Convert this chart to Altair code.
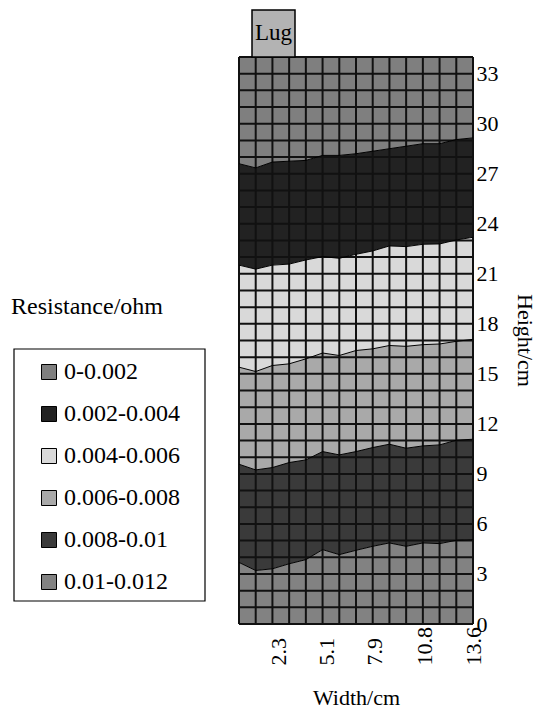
import altair as alt
import pandas as pd

# Measurement columns across the plate (cm)
width_cm = [0.0, 0.97, 1.94, 2.91, 3.89, 4.86, 5.83, 6.8, 7.77, 8.74, 9.71, 10.69, 11.66, 12.63, 13.6]

# Heights (cm) of the iso-resistance boundaries along the width
edge_a = [3.69, 3.21, 3.31, 3.61, 3.86, 4.46, 4.16, 4.42, 4.66, 4.86, 4.66, 4.86, 4.82, 5.02, 5.06]
edge_b = [9.58, 9.24, 9.38, 9.68, 9.84, 10.34, 10.14, 10.34, 10.58, 10.78, 10.54, 10.68, 10.74, 11.02, 11.08]
edge_c = [15.4, 15.14, 15.5, 15.6, 15.9, 16.25, 16.1, 16.4, 16.5, 16.7, 16.65, 16.75, 16.79, 16.95, 17.07]
edge_d = [21.52, 21.28, 21.52, 21.58, 21.83, 22.03, 21.93, 22.17, 22.37, 22.67, 22.63, 22.77, 22.79, 23.03, 23.19]
edge_e = [27.6, 27.35, 27.7, 27.75, 27.8, 28.1, 28.1, 28.2, 28.35, 28.5, 28.65, 28.8, 28.8, 29.05, 29.15]

plate_height = 34
plate_columns = 14

ranges = ["0-0.002", "0.002-0.004", "0.004-0.006", "0.006-0.008", "0.008-0.01", "0.01-0.012"]
shades = ["#7f7f7f", "#222222", "#d9d9d9", "#a9a9a9", "#3a3a3a", "#828282"]

height_ticks = [0, 3, 6, 9, 12, 15, 18, 21, 24, 27, 30, 33]
width_ticks = [2.3, 5.1, 7.9, 10.8, 13.6]

FONT = "Liberation Serif"

top = [plate_height] * len(width_cm)
bottom = [0] * len(width_cm)
band_limits = {
    "0-0.002": (edge_e, top),
    "0.002-0.004": (edge_d, edge_e),
    "0.004-0.006": (edge_c, edge_d),
    "0.006-0.008": (edge_b, edge_c),
    "0.008-0.01": (edge_a, edge_b),
    "0.01-0.012": (bottom, edge_a),
}
band_rows = []
for name, (lo, hi) in band_limits.items():
    for w, a, b in zip(width_cm, lo, hi):
        band_rows.append({"range": name, "w": w, "lo": a, "hi": b})
bands = pd.DataFrame(band_rows)

edge_rows = []
for k, edge in enumerate([edge_a, edge_b, edge_c, edge_d, edge_e]):
    for w, h in zip(width_cm, edge):
        edge_rows.append({"edge": k, "w": w, "h": h})
edges = pd.DataFrame(edge_rows)

col_step = width_cm[-1] / plate_columns
vgrid = pd.DataFrame({"w": [i * col_step for i in range(plate_columns + 1)]})
hgrid = pd.DataFrame({"h": list(range(plate_height + 1))})

xscale = alt.Scale(domain=[0, width_cm[-1]], nice=False, zero=False)
yscale = alt.Scale(domain=[0, plate_height], nice=False, zero=False)

x_axis = alt.Axis(
    values=width_ticks, format=".1f", labelAngle=270, labelAlign="left",
    labelBaseline="middle", labelPadding=41, ticks=False, domain=False, grid=False,
    labelFlush=False, labelOverlap=False, labelFont=FONT, labelFontSize=22,
    labelColor="black",
    title="Width/cm", titleFont=FONT, titleFontSize=22, titleFontWeight="normal",
    titleColor="black", titleY=63, titleBaseline="top",
)
y_axis = alt.Axis(
    orient="right", values=height_ticks, labelPadding=3, ticks=False, domain=False,
    grid=False, labelFlush=False, labelOverlap=False, labelFont=FONT, labelFontSize=22,
    labelColor="black", labelBaseline="middle",
    title="Height/cm", titleFont=FONT, titleFontSize=22, titleFontWeight="normal",
    titleColor="black", titleAngle=90, titleX=51, titleY=283, titleAlign="center",
    titleBaseline="middle",
)

legend = alt.Legend(
    orient="none", legendX=-202, legendY=303, padding=0, symbolType="square",
    symbolSize=225, symbolStrokeColor="black", symbolStrokeWidth=1, symbolOpacity=1,
    labelFont=FONT, labelFontSize=24, labelColor="black", labelOffset=3,
    rowPadding=18, title=None,
)

# Frame drawn behind the legend entries
frame = alt.Chart(pd.DataFrame({"k": [0]})).mark_rect(
    fill="white", stroke="black", strokeWidth=1.2
).encode(x=alt.value(-225), x2=alt.value(-34), y=alt.value(292), y2=alt.value(544))

area = alt.Chart(bands).mark_area(interpolate="linear").encode(
    x=alt.X("w:Q", scale=xscale, axis=x_axis),
    y=alt.Y("lo:Q", scale=yscale, axis=y_axis),
    y2="hi:Q",
    color=alt.Color("range:N", scale=alt.Scale(domain=ranges, range=shades), legend=legend),
)

vlines = alt.Chart(vgrid).mark_rule(color="#111111", strokeWidth=2).encode(
    x=alt.X("w:Q", scale=xscale, axis=x_axis)
)
hlines = alt.Chart(hgrid).mark_rule(color="#111111", strokeWidth=2).encode(
    y=alt.Y("h:Q", scale=yscale, axis=y_axis)
)

contours = alt.Chart(edges).mark_line(color="black", strokeWidth=1).encode(
    x=alt.X("w:Q", scale=xscale, axis=x_axis),
    y=alt.Y("h:Q", scale=yscale, axis=y_axis),
    detail="edge:N",
)

lug_df = pd.DataFrame({"label": ["Lug"]})
lug_box = alt.Chart(lug_df).mark_rect(fill="#b3b3b3", stroke="black", strokeWidth=1.5).encode(
    x=alt.value(13), x2=alt.value(56), y=alt.value(-47), y2=alt.value(0)
)
lug_text = alt.Chart(lug_df).mark_text(font=FONT, fontSize=23, color="black").encode(
    x=alt.value(34.5), y=alt.value(-24), text="label:N"
)

legend_title = alt.Chart(pd.DataFrame({"t": ["Resistance/ohm"]})).mark_text(
    font=FONT, fontSize=24, color="black", align="left", baseline="middle"
).encode(x=alt.value(-228), y=alt.value(250), text="t:N")

chart = alt.layer(frame, area, vlines, hlines, contours, lug_box, lug_text, legend_title).properties(
    width=234,
    height=567,
    autosize=alt.AutoSizeParams(type="none"),
    padding={"left": 239, "top": 57, "right": 64, "bottom": 91},
    background="white",
).configure_view(strokeWidth=0)

chart.save("out.html", embed_options={"renderer": "svg", "actions": False})
